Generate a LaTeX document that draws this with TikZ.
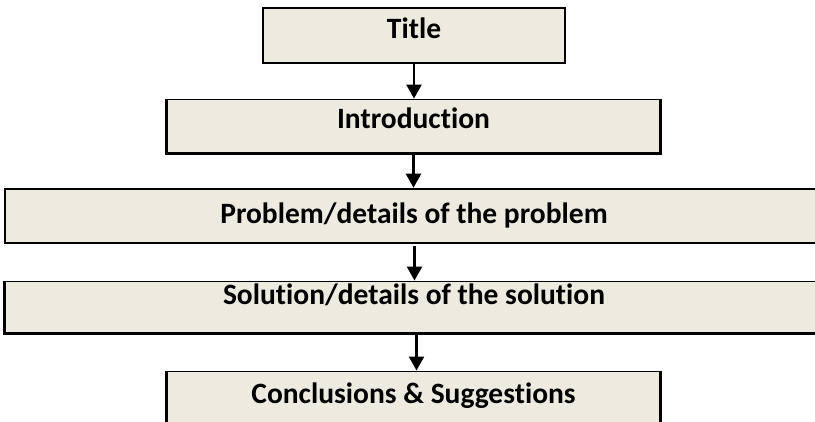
\documentclass[tikz,border=0pt]{standalone}
\usepackage{fontspec}
\setmainfont{Carlito}[Ligatures=NoCommon]
\usetikzlibrary{arrows.meta,calc}
\definecolor{boxfill}{RGB}{237,234,224}
\tikzset{
  lbl/.style={font=\fontsize{29.5}{32}\selectfont\bfseries},
  box/.style={lbl, fill=boxfill, draw=black, line width=0.9pt, inner sep=0pt, text height=19pt},
  thickrim/.style={draw=black, line width=2.6pt, line cap=butt, line join=miter},
  flow/.style={draw=black, line width=2.4pt, -{Triangle[width=15pt,length=14pt]}}
}
\begin{document}
\begin{tikzpicture}[x=1pt,y=-1pt]
\useasboundingbox (0,0) rectangle (815,422);
\clip (0,0) rectangle (815,422);
\node[box, line width=2.6pt, minimum width=302pt, minimum height=55pt, text depth=13pt] (title) at (414,35.5) {Title};
\node[box, minimum width=493pt, minimum height=54pt, text depth=14pt] (intro) at (413.5,126) {Introduction};
\node[box, line width=2.6pt, minimum width=830pt, minimum height=54pt, text depth=4pt] (problem) at (420,216) {};
\node[box, minimum width=830pt, minimum height=52pt, text depth=24pt] (solution) at (420,307) {};
\node[box, minimum width=493pt, minimum height=56pt, text depth=10pt] (conc) at (413.5,399) {Conclusions \& Suggestions};
\node[lbl, inner sep=0pt, anchor=base] (ptext) at (414,224) {Problem/details of the problem};
\node[lbl, inner sep=0pt, anchor=base] (stext) at (414,305) {Solution/details of the solution};
\draw[thickrim] (intro.north west) -- (intro.south west) -- (intro.south east) -- (intro.north east);
\draw[thickrim] (solution.north west) -- (solution.south west) -- (solution.south east);
\draw[thickrim] (conc.north west) -- (conc.south west) -- (conc.south east) -- (conc.north east);
\draw[flow] (title.south) -- (title.south |- intro.north);
\draw[flow] (intro.south) -- (intro.south |- problem.north);
\draw[flow] ([xshift=1pt,yshift=-2pt]intro.south |- problem.south) -- ([xshift=1pt]intro.south |- solution.north);
\draw[flow] ([xshift=3pt,yshift=-2pt]conc.north |- solution.south) -- ([xshift=3pt]conc.north);
\end{tikzpicture}
\end{document}
